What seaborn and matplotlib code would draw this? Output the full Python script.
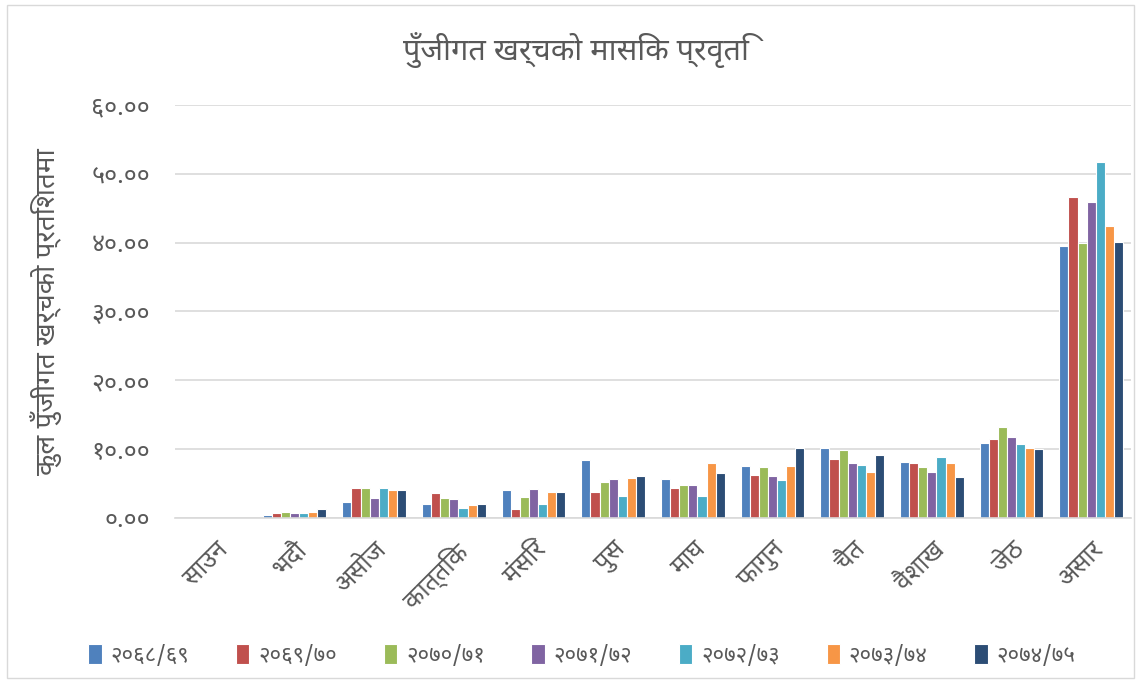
import numpy as np
import pandas as pd
import matplotlib
matplotlib.use("Agg")
import matplotlib.pyplot as plt
import seaborn as sns
from matplotlib import font_manager
from matplotlib.ft2font import FT2Font
from matplotlib.patches import Rectangle

months = ["साउन", "भदौ", "असोज", "कात्तिक", "मंसिर", "पुस", "माघ", "फागुन", "चैत", "वैशाख", "जेठ", "असार"]
years = ["२०६८/६९", "२०६९/७०", "२०७०/७१", "२०७१/७२", "२०७२/७३", "२०७३/७४", "२०७४/७५"]

# percent of total capital expenditure, one list per fiscal year
y6869 = [0.0, 0.43, 2.3, 2.1, 4.0, 8.36, 5.65, 7.54, 10.24, 8.16, 10.87, 39.47]
y6970 = [0.0, 0.68, 4.4, 3.6, 1.3, 3.8, 4.4, 6.28, 8.6, 7.97, 11.5, 46.57]
y7071 = [0.0, 0.87, 4.4, 2.95, 3.1, 5.27, 4.83, 7.34, 9.86, 7.34, 13.2, 39.9]
y7172 = [0.0, 0.68, 2.95, 2.75, 4.2, 5.65, 4.83, 6.1, 7.97, 6.7, 11.7, 45.94]
y7273 = [0.0, 0.68, 4.4, 1.5, 2.1, 3.2, 3.2, 5.46, 7.73, 8.8, 10.7, 51.74]
y7374 = [0.0, 0.87, 4.0, 1.93, 3.77, 5.85, 7.97, 7.54, 6.7, 7.97, 10.24, 42.37]
y7475 = [0.0, 1.3, 4.0, 2.1, 3.77, 6.1, 6.5, 10.24, 9.2, 5.9, 10.0, 40.05]

yticks = [0, 10, 20, 30, 40, 50, 60]
yticklabels = ["०.००", "१०.००", "२०.००", "३०.००", "४०.००", "५०.००", "६०.००"]

title = "पुँजीगत खर्चको मासिक प्रवृति"
ylabel = "कुल पुँजीगत खर्चको प्रतिशतमा"

colors = ["#4F81BD", "#C0504D", "#9BBB59", "#8064A2", "#4BACC6", "#F79646", "#2C4D75"]

series = [y6869, y6970, y7071, y7172, y7273, y7374, y7475]
rows = []
for yr, vals in zip(years, series):
    for m, v in zip(months, vals):
        rows.append({"month": m, "year": yr, "value": v})
df = pd.DataFrame(rows)

# pick a Devanagari font that looks close to Mangal
wanted = ["Noto Sans Devanagari", "Hind", "Mukta", "Poppins", "FreeSans"]
have = {}
for f in font_manager.fontManager.ttflist:
    if f.name in wanted and f.name not in have:
        try:
            if 0x0915 in FT2Font(f.fname).get_charmap():
                have[f.name] = f.fname
        except Exception:
            pass
deva = next((n for n in wanted if n in have), None)

sns.set_style("white")
plt.rcParams["font.family"] = [deva, "DejaVu Sans"] if deva else ["DejaVu Sans"]

gray = "#595959"
fig = plt.figure(figsize=(11.41, 6.83), dpi=100)
ax = fig.add_axes([0.1534, 0.2416, 0.8379, 0.6047])

sns.barplot(data=df, x="month", y="value", hue="year", order=months, hue_order=years,
            palette=colors, saturation=1, width=0.8, edgecolor="white", linewidth=0.8, ax=ax)

ax.set_ylim(0, 60)
ax.set_yticks(yticks)
ax.set_yticklabels(yticklabels, color=gray, fontsize=18)
ax.yaxis.grid(True, color="#D9D9D9", linewidth=1.2)
ax.set_axisbelow(True)
for s in ["top", "right", "left"]:
    ax.spines[s].set_visible(False)
ax.spines["bottom"].set_color("#D9D9D9")
ax.spines["bottom"].set_linewidth(1.2)
ax.tick_params(length=0, pad=14)
ax.tick_params(axis="y", pad=18)
ax.set_xlabel("")
ax.set_ylabel(ylabel, color=gray, fontsize=20)
ax.yaxis.set_label_coords(-0.118, 0.5)
plt.setp(ax.get_xticklabels(), rotation=45, ha="right", rotation_mode="anchor",
         color=gray, fontsize=18)

fig.text(0.505, 0.927, title, ha="center", va="center", color=gray, fontsize=22)

h, l = ax.get_legend_handles_labels()
ax.get_legend().remove()
fig.legend(h, l, loc="center", bbox_to_anchor=(0.51, 0.04), ncol=7, frameon=False,
           fontsize=16, handlelength=0.6, handleheight=1.0, columnspacing=2.1,
           handletextpad=0.4, labelcolor=gray)

fig.patches.append(Rectangle((0.006, 0.008), 0.988, 0.984, transform=fig.transFigure,
                             fill=False, edgecolor="#D9D9D9", linewidth=1))

fig.savefig("out.png", dpi=100)
